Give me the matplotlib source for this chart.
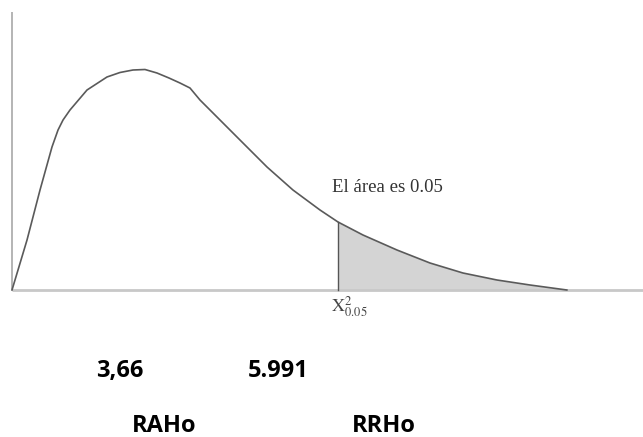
import matplotlib
matplotlib.use("Agg")
import matplotlib.pyplot as plt
import numpy as np

# curve (x in chi-square units, y as density)
curve_x = [0.0, 0.276, 0.515, 0.735, 0.846, 0.938, 1.066, 1.379, 1.746,
           1.985, 2.224, 2.445, 2.665, 2.886, 3.088, 3.272, 3.456, 3.695,
           4.191, 4.688, 5.165, 5.662, 5.993, 6.452, 7.077, 7.684, 8.290,
           8.915, 9.522, 10.2]
curve_y = [0.0, 0.050, 0.100, 0.143, 0.160, 0.170, 0.180, 0.200, 0.213,
           0.2175, 0.220, 0.2205, 0.217, 0.212, 0.207, 0.202, 0.190, 0.177,
           0.150, 0.123, 0.100, 0.080, 0.068, 0.055, 0.040, 0.027, 0.017,
           0.010, 0.005, 0.0]

critical = 5.993
area_text = "El área es 0.05"
values = ["3,66", "5.991"]
regions = ["RAHo", "RRHo"]

fig = plt.figure(figsize=(6.43, 4.37), dpi=100)
ax = fig.add_axes([0, 0, 1, 1])
ax.set_xlim(-0.2206, 11.6)
ax.set_ylim(-0.147, 0.290)
ax.axis("off")

# axes of the sketch
ax.plot([0, 0], [0, 0.278], color="#a8a8a8", lw=1.2, solid_capstyle="butt")
ax.plot([0, 11.6], [0, 0], color="#c8c8c8", lw=2.0, solid_capstyle="butt")

cx = np.array(curve_x)
cy = np.array(curve_y)
tail = cx >= critical
ax.fill_between(cx[tail], 0, cy[tail], color="#d4d4d4", lw=0)
ax.plot(cx, cy, color="#5a5a5a", lw=1.2, solid_joinstyle="round")
ax.plot([critical, critical], [0, np.interp(critical, cx, cy)], color="#555555", lw=1.0)

ax.text(5.89, 0.098, area_text, family="Liberation Serif", fontsize=13.5,
        color="#333333", ha="left", va="baseline")
plt.rcParams["mathtext.fontset"] = "stix"
ax.text(5.86, -0.022, r"$\mathrm{X}^{2}_{0.05}$", fontsize=13, color="#444444",
        ha="left", va="baseline")

# values and regions below the chart
ax.text(1.55, -0.087, values[0], family="Open Sans", weight="bold", fontsize=17,
        ha="left", va="baseline")
ax.text(4.33, -0.087, values[1], family="Open Sans", weight="bold", fontsize=17,
        ha="left", va="baseline")
ax.text(2.20, -0.1425, regions[0], family="Open Sans", weight="bold", fontsize=17,
        ha="left", va="baseline")
ax.text(6.24, -0.1425, regions[1], family="Open Sans", weight="bold", fontsize=17,
        ha="left", va="baseline")

fig.savefig("out.png", dpi=100)
